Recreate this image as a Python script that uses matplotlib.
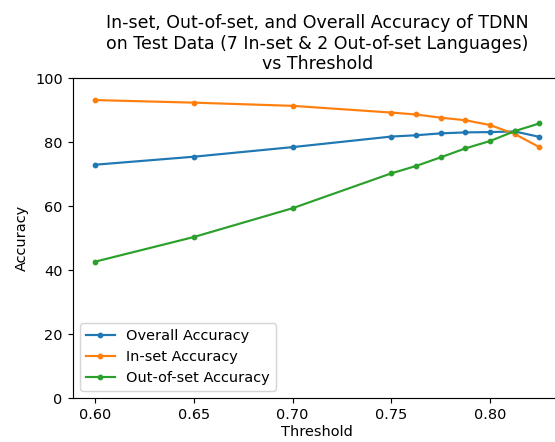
import matplotlib
matplotlib.use("Agg")
import matplotlib.pyplot as plt

thresholds = [0.60, 0.65, 0.70, 0.75, 0.7625, 0.775, 0.7875, 0.80, 0.8125, 0.825]
overall_acc = [72.9, 75.4, 78.4, 81.7, 82.1, 82.7, 83.0, 83.1, 83.3, 81.6]
inset_acc = [93.1, 92.3, 91.3, 89.2, 88.6, 87.6, 86.8, 85.3, 82.5, 78.4]
outset_acc = [42.6, 50.3, 59.3, 70.2, 72.5, 75.2, 78.0, 80.3, 83.4, 85.8]

dpi = 104
fig = plt.figure(figsize=(555 / dpi, 442 / dpi), dpi=dpi)
ax = fig.add_axes([72.8 / 555, 44 / 442, 488.8 / 555, 320 / 442])

ax.plot(thresholds, overall_acc, marker='.', label='Overall Accuracy')
ax.plot(thresholds, inset_acc, marker='.', label='In-set Accuracy')
ax.plot(thresholds, outset_acc, marker='.', label='Out-of-set Accuracy')

ax.set_ylim(0, 100)
ax.set_xlabel('Threshold', labelpad=2)
ax.set_ylabel('Accuracy')
ax.set_title('In-set, Out-of-set, and Overall Accuracy of TDNN\n'
             'on Test Data (7 In-set & 2 Out-of-set Languages)\nvs Threshold')
ax.legend(loc='lower left')

fig.savefig('out.png', dpi=dpi)
